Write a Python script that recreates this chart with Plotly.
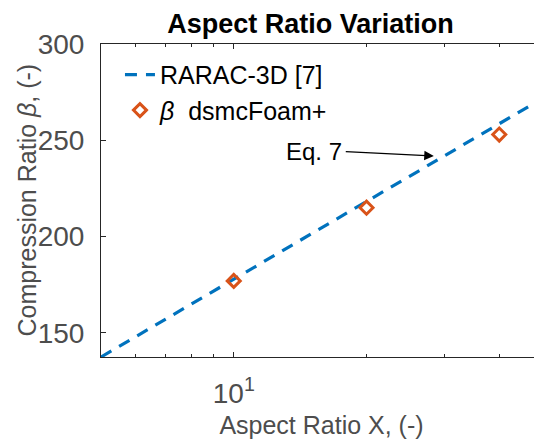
import plotly.graph_objects as go

# Data
model_x = [5, 47]
model_y = [137.5, 268.0]
model_name = "RARAC-3D [7]"

sim_x = [10, 20, 40]
sim_y = [177, 215, 253]
sim_name = "<i>β</i>  dsmcFoam+"

x_tickvals = [10]
x_ticktext = ["10<sup>1</sup>"]
x_minor = [6, 7, 8, 9, 20, 30, 40]
y_tickvals = [150, 200, 250, 300]

FONT = "Liberation Sans, Arial, Helvetica, sans-serif"
BLUE = "#0072BD"
ORANGE = "#D95319"
AXC = "#262626"
LBL = "#4d4d4d"

# The page body has an 8px margin, so the figure is sized/margined to compensate.
W, H = 534, 432

fig = go.Figure()
fig.add_trace(go.Scatter(
    x=model_x, y=model_y, mode="lines", name=model_name,
    line=dict(color=BLUE, width=3.2, dash="12px,9px"),
))
fig.add_trace(go.Scatter(
    x=sim_x, y=sim_y, mode="markers", name=sim_name,
    marker=dict(symbol="diamond-open", size=10, color=ORANGE,
                line=dict(color=ORANGE, width=3)),
))

# Eq. 7 arrow + text
fig.add_annotation(
    x=1.4537, y=241.9, xref="x", yref="y",
    ax=1.2506, ay=244.2, axref="x", ayref="y",
    text="", showarrow=True, arrowhead=2, arrowsize=1.6, arrowwidth=1.2,
    arrowcolor="black",
)
fig.add_annotation(
    x=1.2506, y=244.2, xref="x", yref="y",
    text="Eq. 7", showarrow=False, xanchor="right", yanchor="middle",
    xshift=0, font=dict(family=FONT, size=24, color="black"),
)

# y-axis title (placed as a rotated annotation for exact positioning)
fig.add_annotation(
    x=0, y=0.5, xref="paper", yref="paper", xshift=-75,
    text="Compression Ratio <i>β</i>, (-)", textangle=-90, showarrow=False,
    xanchor="center", yanchor="middle",
    font=dict(family=FONT, size=25, color=LBL),
)

fig.update_layout(
    width=W, height=H,
    margin=dict(l=93, r=0, t=35.5, b=82.5),
    paper_bgcolor="white", plot_bgcolor="white",
    font=dict(family=FONT, color=LBL),
    title=dict(text="<b>Aspect Ratio Variation</b>", x=302.5 / W, xanchor="center",
               xref="container", y=1 - 16 / H, yanchor="middle", yref="container",
               font=dict(family=FONT, size=27, color="black")),
    showlegend=True,
    legend=dict(x=0.043, y=0.975, xanchor="left", yanchor="top",
                bgcolor="rgba(0,0,0,0)", borderwidth=0,
                font=dict(family=FONT, size=25, color="black"),
                tracegroupgap=0, itemwidth=30),
)

fig.update_xaxes(
    type="log", range=[0.69897, 1.69897],
    tickvals=x_tickvals, ticktext=x_ticktext,
    ticks="inside", ticklen=5, tickcolor=AXC, tickwidth=1,
    minor=dict(tickvals=x_minor, ticks="inside", ticklen=3, tickcolor=AXC),
    showline=True, linecolor=AXC, linewidth=1, mirror="allticks",
    showgrid=False, zeroline=False,
    tickfont=dict(family=FONT, size=28, color=LBL),
    ticklabelstandoff=11,
    title=dict(text="Aspect Ratio X, (-)", standoff=8,
               font=dict(family=FONT, size=25, color=LBL)),
    automargin=False,
)
fig.update_yaxes(
    range=[137.5, 300],
    tickvals=y_tickvals,
    ticks="inside", ticklen=5, tickcolor=AXC, tickwidth=1,
    showline=True, linecolor=AXC, linewidth=1, mirror="allticks",
    showgrid=False, zeroline=False,
    tickfont=dict(family=FONT, size=28, color=LBL),
    ticklabelstandoff=10,
    automargin=False,
)

fig.write_html("out.html")
